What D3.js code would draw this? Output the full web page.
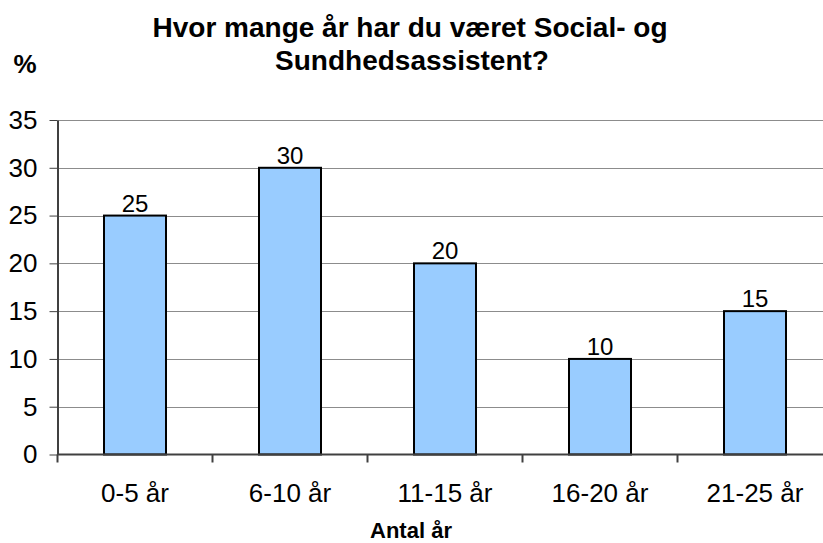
<!DOCTYPE html>
<html>
<head>
<meta charset="utf-8">
<script src="https://cdn.jsdelivr.net/npm/d3@7"></script>
<style>
  body { margin: 0; background: #fff; }
  svg text { font-family: Arial, "Liberation Sans", sans-serif; }
</style>
</head>
<body>
<svg id="chart" width="823" height="543"></svg>
<script>
// data
const categories = ["0-5 år", "6-10 år", "11-15 år", "16-20 år", "21-25 år"];
const values = [25, 30, 20, 10, 15];
const yTicks = [0, 5, 10, 15, 20, 25, 30, 35];

const svg = d3.select("#chart");
const margin = {left: 57.5, right: -9.5, top: 120, bottom: 88.5};
const W = 823, H = 543;

const x = d3.scaleBand()
    .domain(categories)
    .range([margin.left, W - margin.right])
    .paddingInner(0.6)
    .paddingOuter(0.3);

const y = d3.scaleLinear()
    .domain([0, 35])
    .range([H - margin.bottom, margin.top]);

// grid lines
svg.append("g")
    .selectAll("line")
    .data(yTicks.filter(d => d > 0))
    .join("line")
    .attr("x1", margin.left)
    .attr("x2", W)
    .attr("y1", d => Math.round(y(d)) + 0.5)
    .attr("y2", d => Math.round(y(d)) + 0.5)
    .attr("stroke", "#8c8c8c")
    .attr("stroke-width", 1);

// bars
svg.append("g")
    .selectAll("rect")
    .data(values)
    .join("rect")
    .attr("x", (d, i) => x(categories[i]))
    .attr("y", d => y(d))
    .attr("width", x.bandwidth())
    .attr("height", d => y(0) - y(d))
    .attr("fill", "#99ccff")
    .attr("stroke", "#000")
    .attr("stroke-width", 2);

// value labels
svg.append("g")
    .selectAll("text")
    .data(values)
    .join("text")
    .attr("x", (d, i) => x(categories[i]) + x.bandwidth() / 2)
    .attr("y", d => y(d) - 4)
    .attr("text-anchor", "middle")
    .attr("font-size", 24)
    .text(d => d);

// y axis
const yAxis = svg.append("g")
    .attr("transform", `translate(${margin.left},0)`)
    .call(d3.axisLeft(y).tickValues(yTicks).tickSize(8).tickPadding(12).tickSizeOuter(0));
yAxis.select(".domain").attr("stroke", "#404040").attr("stroke-width", 2);
yAxis.selectAll(".tick line").attr("stroke", "#404040");
yAxis.selectAll(".tick text")
    .attr("font-size", 26)
    .attr("font-family", "Arial, 'Liberation Sans', sans-serif")
    .attr("fill", "#000");

// x axis line + boundary ticks
const boundaries = d3.range(categories.length + 1).map(i => margin.left + i * x.step());
svg.append("line")
    .attr("x1", margin.left)
    .attr("x2", W)
    .attr("y1", y(0))
    .attr("y2", y(0))
    .attr("stroke", "#404040")
    .attr("stroke-width", 2);
svg.append("g")
    .selectAll("line")
    .data(boundaries)
    .join("line")
    .attr("x1", d => d)
    .attr("x2", d => d)
    .attr("y1", y(0))
    .attr("y2", y(0) + 8)
    .attr("stroke", "#404040")
    .attr("stroke-width", 2);

// category labels
svg.append("g")
    .selectAll("text")
    .data(categories)
    .join("text")
    .attr("x", d => x(d) + x.bandwidth() / 2)
    .attr("y", 502)
    .attr("text-anchor", "middle")
    .attr("font-size", 26)
    .text(d => d);

// titles
svg.append("text")
    .attr("x", 411).attr("y", 538)
    .attr("text-anchor", "middle")
    .attr("font-size", 22).attr("font-weight", "bold")
    .text("Antal år");

svg.append("text")
    .attr("x", 410).attr("y", 37)
    .attr("text-anchor", "middle")
    .attr("font-size", 28).attr("font-weight", "bold")
    .text("Hvor mange år har du været Social- og");
svg.append("text")
    .attr("x", 412).attr("y", 70)
    .attr("text-anchor", "middle")
    .attr("font-size", 28).attr("font-weight", "bold")
    .text("Sundhedsassistent?");

svg.append("text")
    .attr("x", 25).attr("y", 73)
    .attr("text-anchor", "middle")
    .attr("font-size", 26).attr("font-weight", "bold")
    .text("%");
</script>
</body>
</html>
